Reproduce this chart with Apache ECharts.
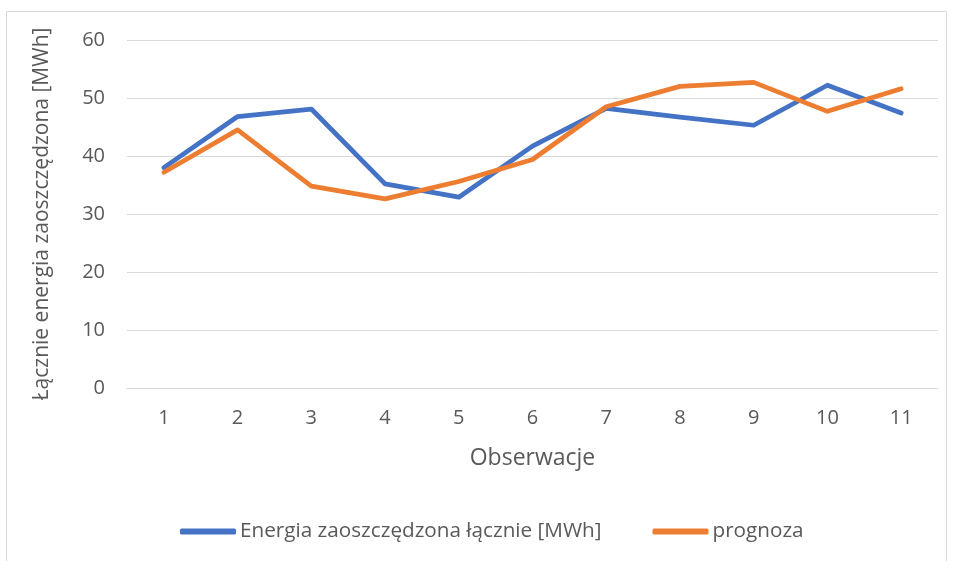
<!DOCTYPE html>
<html>
<head>
<meta charset="utf-8">
<script src="https://cdn.jsdelivr.net/npm/echarts@6/dist/echarts.min.js"></script>
<style>
  html, body { margin: 0; padding: 0; background: #fff; }
  #main { width: 953px; height: 561px; }
</style>
</head>
<body>
<div id="main"></div>
<script>
var categories = ['1', '2', '3', '4', '5', '6', '7', '8', '9', '10', '11'];
var energia = [38.0, 46.8, 48.1, 35.2, 32.9, 41.7, 48.2, 46.7, 45.3, 52.2, 47.4];
var prognoza = [37.2, 44.5, 34.8, 32.6, 35.6, 39.4, 48.5, 52.0, 52.7, 47.7, 51.6];

var myChart = echarts.init(document.getElementById('main'));
var font = '"Open Sans", "Noto Sans", sans-serif';

var option = {
  backgroundColor: '#fff',
  animation: false,
  graphic: [{
    type: 'rect',
    shape: { x: 6.5, y: 11.5, width: 940, height: 560 },
    style: { fill: 'none', stroke: '#d9d9d9', lineWidth: 1 }
  }],
  grid: { left: 127, right: 15, top: 40, bottom: 173, containLabel: false },
  legend: {
    bottom: 14,
    left: 175,
    itemWidth: 56,
    itemHeight: 6,
    itemGap: 51,
    icon: 'roundRect',
    textStyle: { color: '#595959', fontSize: 20.7, fontFamily: font, padding: [0, 0, 0, -1] },
    data: ['Energia zaoszczędzona łącznie [MWh]', 'prognoza']
  },
  xAxis: {
    type: 'category',
    data: categories,
    boundaryGap: true,
    name: 'Obserwacje',
    nameLocation: 'middle',
    nameGap: 59,
    nameTextStyle: { color: '#595959', fontSize: 23, fontFamily: font },
    axisLine: { lineStyle: { color: '#d9d9d9', width: 1 } },
    axisTick: { show: false },
    axisLabel: { color: '#595959', fontSize: 20, fontFamily: font, margin: 20 }
  },
  yAxis: {
    type: 'value',
    min: 0,
    max: 60,
    interval: 10,
    name: 'Łącznie energia zaoszczędzona [MWh]',
    nameLocation: 'middle',
    nameGap: 74,
    nameTextStyle: { color: '#595959', fontSize: 21, fontFamily: font },
    axisLine: { show: false },
    axisTick: { show: false },
    axisLabel: { color: '#595959', fontSize: 20, fontFamily: font, margin: 22 },
    splitLine: { lineStyle: { color: '#d9d9d9', width: 1 } }
  },
  series: [{
    name: 'Energia zaoszczędzona łącznie [MWh]',
    type: 'line',
    data: energia,
    symbol: 'none',
    lineStyle: { color: '#4472C4', width: 4.75, cap: 'round', join: 'round' },
    itemStyle: { color: '#4472C4' }
  }, {
    name: 'prognoza',
    type: 'line',
    data: prognoza,
    symbol: 'none',
    lineStyle: { color: '#ED7D31', width: 4.75, cap: 'round', join: 'round' },
    itemStyle: { color: '#ED7D31' }
  }]
};
myChart.setOption(option);
</script>
</body>
</html>
